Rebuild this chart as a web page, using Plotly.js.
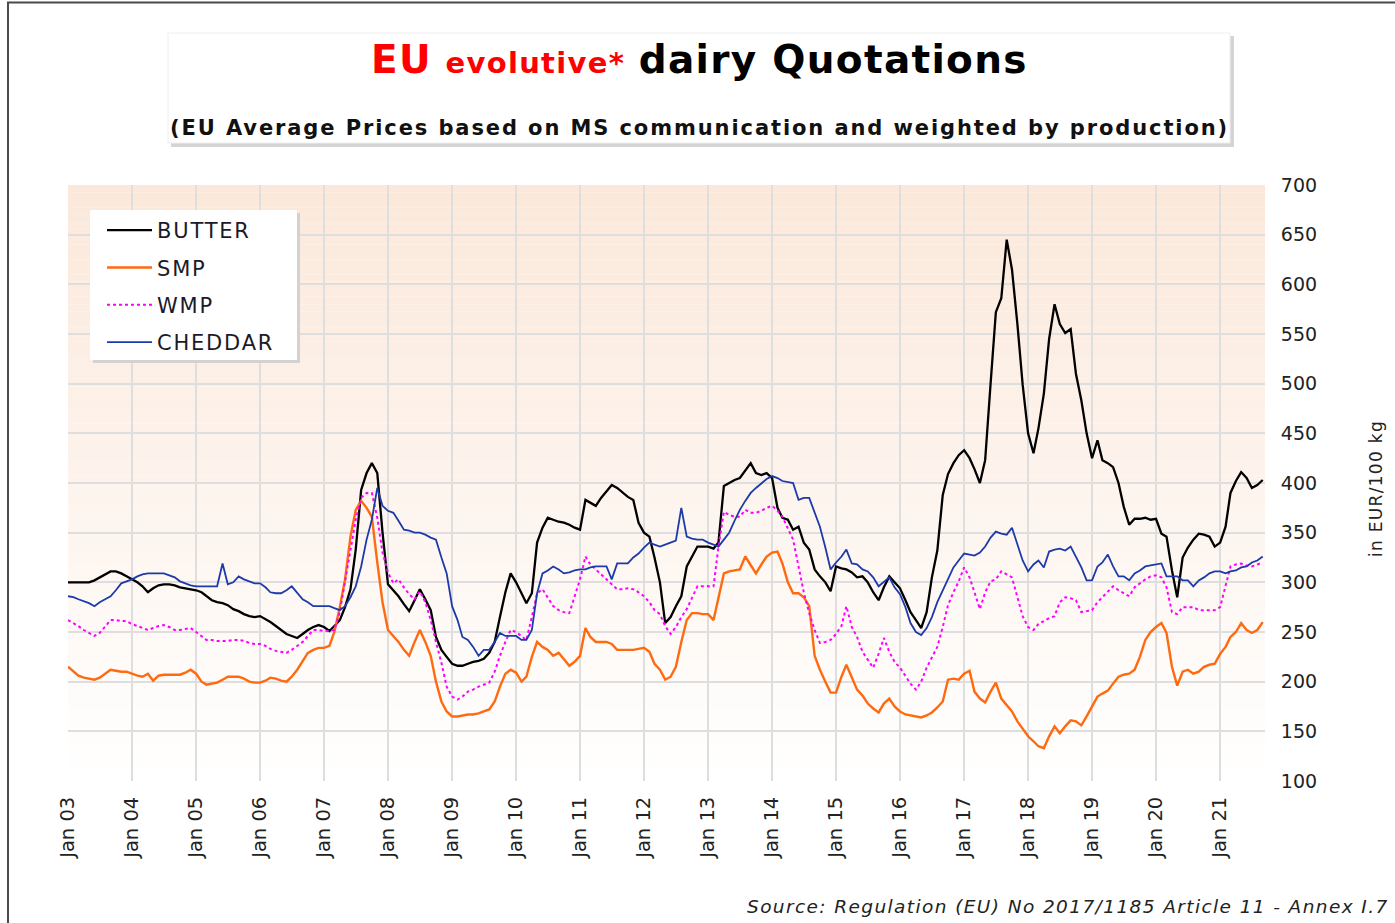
<!DOCTYPE html>
<html>
<head>
<meta charset="utf-8">
<script src="https://cdn.plot.ly/plotly-3.0.1.min.js"></script>
<style>html,body{margin:0;padding:0;background:#fff;}#chart{width:1395px;height:923px;}</style>
</head>
<body>
<div id="chart"></div>
<script>
// ---- DATA (monthly, Jan 2003 .. Sep 2021), EUR / 100 kg ----
const startYear = 2003;
const butter = [
 300,300,300,300,300,302,305,308,311,311,309,306,
 303,300,296,290,294,297,298,298,297,295,294,293,
 292,290,286,282,280,279,277,273,271,268,266,265,
 266,263,260,256,252,248,246,244,248,252,255,257,
 255,251,256,262,275,293,333,393,410,420,410,350,
 298,292,286,278,271,282,293,283,272,245,232,225,
 218,216,216,218,220,221,223,229,240,265,290,309,
 300,289,279,289,340,355,365,363,361,360,358,355,
 353,383,380,377,385,392,398,395,390,386,383,360,
 350,346,325,300,259,265,276,286,316,326,336,336,
 336,334,340,397,400,403,405,412,420,410,408,410,
 405,375,365,363,353,356,340,333,313,306,300,291,
 316,314,313,310,305,306,300,290,282,295,306,300,
 294,282,270,262,254,270,305,332,388,409,420,428,
 433,425,414,400,423,500,572,586,645,615,560,499,
 450,430,455,490,545,580,560,551,555,510,483,450,
 425,443,423,420,416,400,376,358,364,364,365,363,
 364,349,346,312,285,325,335,343,349,348,346,336,
 340,356,390,402,411,405,395,398,403
];
const smp = [
 215,210,206,204,203,202,204,208,212,211,210,210,
 208,206,205,208,201,206,207,207,207,207,209,212,
 208,200,197,198,199,202,205,205,205,203,200,199,
 199,201,204,203,201,200,205,212,220,229,232,234,
 234,236,250,275,303,346,373,382,375,366,320,280,
 252,246,240,232,226,240,252,240,226,200,180,170,
 165,165,166,167,167,168,170,172,180,195,208,212,
 209,200,205,225,240,235,232,226,229,222,216,220,
 226,254,245,240,240,240,238,232,232,232,232,233,
 234,230,218,212,202,205,215,240,262,269,269,268,
 268,262,285,309,311,312,313,326,318,309,318,326,
 330,331,319,300,289,289,285,276,226,212,200,189,
 189,205,217,205,192,186,178,173,169,178,183,175,
 170,167,166,165,164,166,169,174,180,202,203,202,
 208,211,190,183,179,190,199,183,176,170,160,152,
 145,140,135,133,145,155,148,155,161,160,156,165,
 175,185,188,191,198,205,207,208,212,225,242,250,
 255,259,249,215,196,210,212,208,210,215,217,218,
 228,235,245,250,259,252,249,252,260
];
const wmp = [
 262,259,256,252,249,246,249,255,262,262,261,261,
 258,256,254,252,254,256,257,255,252,252,253,254,
 250,246,242,242,241,241,241,242,242,241,239,238,
 238,236,233,231,230,229,232,236,240,246,252,252,
 251,251,252,270,300,333,363,385,390,390,365,330,
 310,299,303,295,288,283,291,280,262,240,219,195,
 185,182,185,190,192,195,197,199,210,226,240,252,
 250,246,242,265,289,293,285,276,272,270,269,285,
 303,326,318,313,308,303,298,293,293,294,293,290,
 286,280,272,268,256,248,255,265,273,285,296,296,
 296,296,336,371,368,366,366,373,370,370,372,375,
 377,372,366,355,343,316,290,269,252,239,240,242,
 248,256,276,255,245,230,222,214,228,244,230,220,
 214,205,198,192,200,214,225,235,255,277,290,301,
 315,305,290,273,290,301,303,311,308,305,285,266,
 255,252,258,261,264,266,280,285,284,282,270,271,
 272,280,285,290,296,292,289,286,295,299,303,306,
 307,305,295,270,268,275,275,275,272,272,272,272,
 275,296,316,318,319,317,316,318,320
];
const cheddar = [
 286,285,283,281,279,276,280,283,286,292,299,301,
 303,306,308,309,309,309,309,307,305,301,299,297,
 296,296,296,296,296,319,298,300,306,303,301,299,
 299,295,290,289,289,292,296,290,283,280,276,276,
 276,276,274,272,276,285,296,316,343,363,395,377,
 372,370,362,353,352,350,350,348,345,343,325,309,
 276,262,245,242,235,226,232,232,240,249,246,246,
 246,242,242,252,289,309,312,316,313,309,310,312,
 313,313,315,316,316,316,303,319,319,319,325,329,
 335,340,338,336,338,340,342,375,346,344,343,343,
 340,338,336,343,350,362,373,382,390,395,400,404,
 407,405,402,401,400,383,385,385,370,356,335,313,
 320,326,333,319,318,313,311,305,296,300,305,295,
 288,275,259,250,247,254,265,280,292,303,315,322,
 329,328,327,330,336,345,351,349,348,355,339,322,
 311,318,322,315,331,333,334,332,336,326,315,302,
 302,316,320,328,316,306,306,302,309,312,316,317,
 318,319,306,306,306,302,302,296,302,305,309,311,
 311,309,311,312,315,316,320,322,326
];
const seriesNames = ['BUTTER','SMP','WMP','CHEDDAR'];
const yTicks = [100,150,200,250,300,350,400,450,500,550,600,650,700];

// monthly dates
const dates = butter.map((_, k) => {
  const y = startYear + Math.floor(k / 12), m = (k % 12) + 1;
  return y + '-' + String(m).padStart(2, '0') + '-01';
});

// ---- layout helpers (pixel -> paper) ----
const L = 68, R = 130, T = 185, B = 142, W = 1395, H = 923;
const PW = W - L - R, PH = H - T - B;
const px = p => (p - L) / PW;
const py = p => (H - B - p) / PH;

const FONT = 'DejaVu Sans, Verdana, sans-serif';
const sp = (txt, ls) => '<span style="letter-spacing:' + ls + 'px">' + txt + '</span>';

const traces = [
  {name: seriesNames[0], y: butter, line: {color: '#000000', width: 2.3}},
  {name: seriesNames[1], y: smp, line: {color: '#ff6a10', width: 2.4}},
  {name: seriesNames[2], y: wmp, line: {color: '#ff00ff', width: 2, dash: 'dot'}},
  {name: seriesNames[3], y: cheddar, line: {color: '#1c3aa9', width: 1.8}}
].map((t, i) => Object.assign({x: dates, type: 'scatter', mode: 'lines', legendgroup: 'g' + i, hoverinfo: 'skip'}, t, {name: sp(t.name, 1.8)}));

// background gradient bands
const shapes = [];
const NB = 80, colTop = [251, 232, 218], colBot = [255, 255, 255];
for (let i = 0; i < NB; i++) {
  const f = (i + 0.5) / NB;
  const c = colTop.map((v, j) => Math.round(colBot[j] + (v - colBot[j]) * f));
  shapes.push({type: 'rect', xref: 'paper', yref: 'paper', x0: 0, x1: 1, y0: i / NB, y1: (i + 1) / NB,
    fillcolor: 'rgb(' + c.join(',') + ')', line: {width: 0}, layer: 'below'});
}
// outer frame
shapes.push({type: 'rect', xref: 'paper', yref: 'paper', x0: px(8), x1: px(1420), y0: py(950), y1: py(2.5),
  line: {color: '#4a4a4a', width: 2}, fillcolor: 'rgba(0,0,0,0)', layer: 'below'});
// title box shadow + box
shapes.push({type: 'rect', xref: 'paper', yref: 'paper', x0: px(171), x1: px(1234), y0: py(147), y1: py(36),
  line: {width: 0}, fillcolor: '#d4d4d4', layer: 'below'});
shapes.push({type: 'rect', xref: 'paper', yref: 'paper', x0: px(168), x1: px(1230), y0: py(143), y1: py(33),
  line: {color: '#eeeeee', width: 1}, fillcolor: '#ffffff', layer: 'below'});
// legend box: shadow + white panel
shapes.push({type: 'rect', xref: 'paper', yref: 'paper', x0: px(93), x1: px(300), y0: py(363), y1: py(213),
  line: {width: 0}, fillcolor: '#d2d2d2', layer: 'above'});
shapes.push({type: 'rect', xref: 'paper', yref: 'paper', x0: px(90), x1: px(297), y0: py(360), y1: py(210),
  line: {width: 0}, fillcolor: '#ffffff', layer: 'above'});

const annotations = [
  {xref: 'paper', yref: 'paper', x: px(699), y: py(60), xanchor: 'center', yanchor: 'middle', showarrow: false,
   text: '<b><span style="color:#ff0000;letter-spacing:1.3px">EU</span> <span style="color:#ff0000;font-size:29px;letter-spacing:1.3px">evolutive*</span> <span style="letter-spacing:1.3px">dairy Quotations</span></b>',
   font: {family: FONT, size: 39, color: '#000'}},
  {xref: 'paper', yref: 'paper', x: px(699), y: py(128), xanchor: 'center', yanchor: 'middle', showarrow: false,
   text: '<b>' + sp('(EU Average Prices based on MS communication and weighted by production)', 1.9) + '</b>',
   font: {family: FONT, size: 21, color: '#111'}},
  {xref: 'paper', yref: 'paper', x: px(1376), y: py(489), xanchor: 'center', yanchor: 'middle', showarrow: false,
   textangle: -90, text: sp('in EUR/100 kg', 1.3), font: {family: FONT, size: 17, color: '#222'}},
  {xref: 'paper', yref: 'paper', x: px(1391), y: py(906), xanchor: 'right', yanchor: 'middle', showarrow: false,
   text: '<i>' + sp('Source: Regulation (EU) No 2017/1185 Article 11 - Annex I.7', 1.4) + '</i>', font: {family: FONT, size: 18.5, color: '#222'}}
];

const layout = {
  width: W, height: H,
  margin: {l: L, r: R, t: T, b: B, pad: 0},
  paper_bgcolor: '#ffffff', plot_bgcolor: 'rgba(0,0,0,0)',
  showlegend: true,
  legend: {x: px(102), y: py(210), xanchor: 'left', yanchor: 'top', bgcolor: 'rgba(0,0,0,0)', borderwidth: 0,
    font: {family: FONT, size: 21, color: '#1a1a2a'}, tracegroupgap: 7, itemwidth: 45},
  xaxis: {type: 'date', range: ['2003-01-01', '2021-09-14'], tick0: '2003-01-01', dtick: 'M12', tickformat: '%b %y',
    tickangle: -90, showgrid: true, gridcolor: '#dedede', gridwidth: 2, zeroline: false, showline: false,
    ticks: 'outside', ticklen: 7, tickcolor: 'rgba(0,0,0,0)', tickfont: {family: FONT, size: 19.5, color: '#222'}},
  yaxis: {side: 'right', range: [100, 700], tickvals: yTicks, showgrid: true, gridcolor: '#dedede', gridwidth: 2,
    zeroline: false, showline: false, ticks: 'outside', ticklen: 11, tickcolor: 'rgba(0,0,0,0)',
    tickfont: {family: FONT, size: 19, color: '#222'}},
  shapes: shapes,
  annotations: annotations,
  hovermode: false
};

Plotly.newPlot('chart', traces, layout, {displayModeBar: false, staticPlot: true});
</script>
</body>
</html>
